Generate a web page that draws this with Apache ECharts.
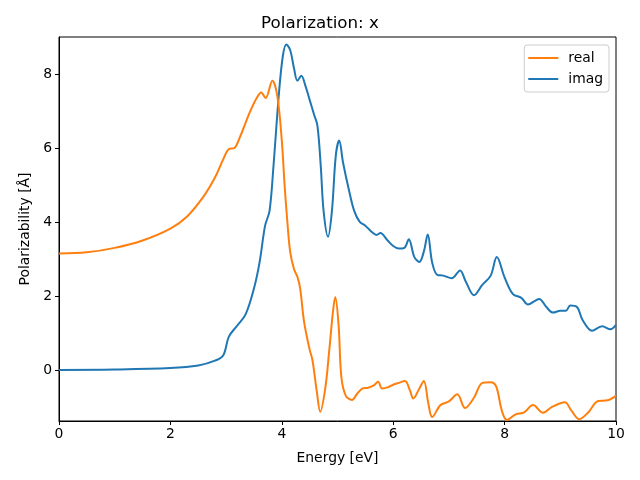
<!DOCTYPE html>
<html><head><meta charset="utf-8">
<script src="https://cdn.jsdelivr.net/npm/echarts@6/dist/echarts.min.js"></script>
<style>html,body{margin:0;padding:0;background:#fff}#c{width:640px;height:480px}</style>
</head><body><div id="c"></div>
<script>
const imagX = [0,1,2,2.5,2.8,2.95,3.05,3.2,3.35,3.5,3.6,3.7,3.78,3.85,3.95,4.02,4.08,4.15,4.22,4.28,4.35,4.42,4.5,4.58,4.64,4.7,4.75,4.83,4.9,4.97,5.03,5.1,5.2,5.3,5.4,5.5,5.6,5.7,5.77,5.9,6.0,6.1,6.2,6.28,6.38,6.47,6.55,6.62,6.7,6.79,6.9,7.05,7.2,7.3,7.45,7.6,7.75,7.86,8.0,8.15,8.3,8.42,8.62,8.75,8.87,9.0,9.1,9.18,9.3,9.4,9.57,9.75,9.9,10];
const imagY = [0,0.01,0.05,0.12,0.25,0.4,0.9,1.2,1.5,2.2,2.9,3.9,4.3,5.5,7.5,8.5,8.8,8.65,8.15,7.82,7.95,7.7,7.3,6.9,6.6,5.5,4.3,3.6,4.3,5.8,6.2,5.6,4.9,4.3,4.0,3.9,3.75,3.65,3.7,3.5,3.35,3.28,3.3,3.53,3.05,2.92,3.2,3.66,2.9,2.57,2.55,2.48,2.69,2.4,2.02,2.3,2.55,3.05,2.5,2.05,1.95,1.77,1.92,1.7,1.55,1.6,1.6,1.74,1.7,1.35,1.06,1.18,1.1,1.22];
const realX = [0,0.5,1,1.5,2,2.3,2.6,2.8,2.95,3.05,3.15,3.25,3.37,3.45,3.55,3.63,3.71,3.83,3.92,4.0,4.05,4.1,4.15,4.22,4.28,4.33,4.4,4.5,4.55,4.63,4.69,4.78,4.85,4.92,4.96,5.02,5.07,5.15,5.26,5.35,5.45,5.55,5.65,5.73,5.8,5.9,6.0,6.1,6.21,6.3,6.36,6.47,6.55,6.63,6.7,6.85,7.0,7.15,7.29,7.45,7.6,7.75,7.85,7.95,8.04,8.2,8.35,8.51,8.69,8.85,9.08,9.2,9.34,9.5,9.68,9.85,10];
const realY = [3.15,3.18,3.3,3.5,3.82,4.15,4.7,5.2,5.7,5.97,6.0,6.3,6.76,7.05,7.35,7.5,7.35,7.82,7.4,6.2,5.0,4.0,3.2,2.72,2.52,2.2,1.3,0.55,0.27,-0.6,-1.13,-0.5,0.5,1.6,1.97,1.2,-0.2,-0.7,-0.81,-0.65,-0.5,-0.48,-0.42,-0.32,-0.5,-0.47,-0.4,-0.35,-0.3,-0.55,-0.77,-0.5,-0.3,-0.9,-1.27,-0.95,-0.85,-0.66,-1.03,-0.75,-0.35,-0.33,-0.45,-1.1,-1.35,-1.2,-1.15,-0.95,-1.16,-1.0,-0.87,-1.1,-1.33,-1.15,-0.84,-0.82,-0.7];
const yTicks = [0,2,4,6,8];

const pair = (xs, ys) => xs.map((x,i)=>[x, ys[i]]);
const chart = echarts.init(document.getElementById('c'), null, {renderer:'canvas'});
const font = 'DejaVu Sans';
const fs = 13.9;
chart.setOption({
  animation:false,
  backgroundColor:'#fff',
  title:{text:'Polarization: x', left:'center', top:10, textStyle:{fontFamily:font, fontSize:16.7, fontWeight:'normal', color:'#000'}},
  grid:{left:59, right:24, top:37, bottom:59, show:true, borderColor:'#000', borderWidth:1, backgroundColor:'transparent'},
  legend:{
    orient:'vertical', right:31, top:45, data:['real','imag'],
    itemWidth:30, itemHeight:2, itemGap:7, padding:[6,6,6,4],
    borderColor:'#ccc', borderWidth:1, borderRadius:3,
    textStyle:{fontFamily:font, fontSize:fs, color:'#000', padding:[0,0,0,5]},
    icon:'rect'
  },
  xAxis:{type:'value', min:0, max:10, interval:2, name:'Energy [eV]', nameLocation:'middle', nameGap:30,
    nameTextStyle:{fontFamily:font, fontSize:fs, color:'#000'},
    axisLine:{show:true, onZero:false, lineStyle:{color:'#000'}},
    axisTick:{show:true, length:4, inside:false, lineStyle:{color:'#000'}},
    axisLabel:{fontFamily:font, fontSize:fs, color:'#000', margin:6},
    splitLine:{show:false}},
  yAxis:{type:'value', min:-1.38, max:9.0, name:'Polarizability [Å]', nameLocation:'middle', nameGap:27,
    nameTextStyle:{fontFamily:font, fontSize:fs, color:'#000'},
    axisLine:{show:true, onZero:false, lineStyle:{color:'#000'}},
    axisTick:{show:true, length:4, customValues:yTicks, lineStyle:{color:'#000'}},
    axisLabel:{fontFamily:font, fontSize:fs, color:'#000', margin:7, customValues:yTicks},
    splitLine:{show:false}},
  series:[
    {name:'imag', type:'line', data:pair(imagX, imagY), smooth:0.35, showSymbol:false, lineStyle:{color:'#1f77b4', width:2}, itemStyle:{color:'#1f77b4'}, z:2},
    {name:'real', type:'line', data:pair(realX, realY), smooth:0.35, showSymbol:false, lineStyle:{color:'#ff7f0e', width:2}, itemStyle:{color:'#ff7f0e'}, z:3}
  ]
});
</script>
</body></html>
